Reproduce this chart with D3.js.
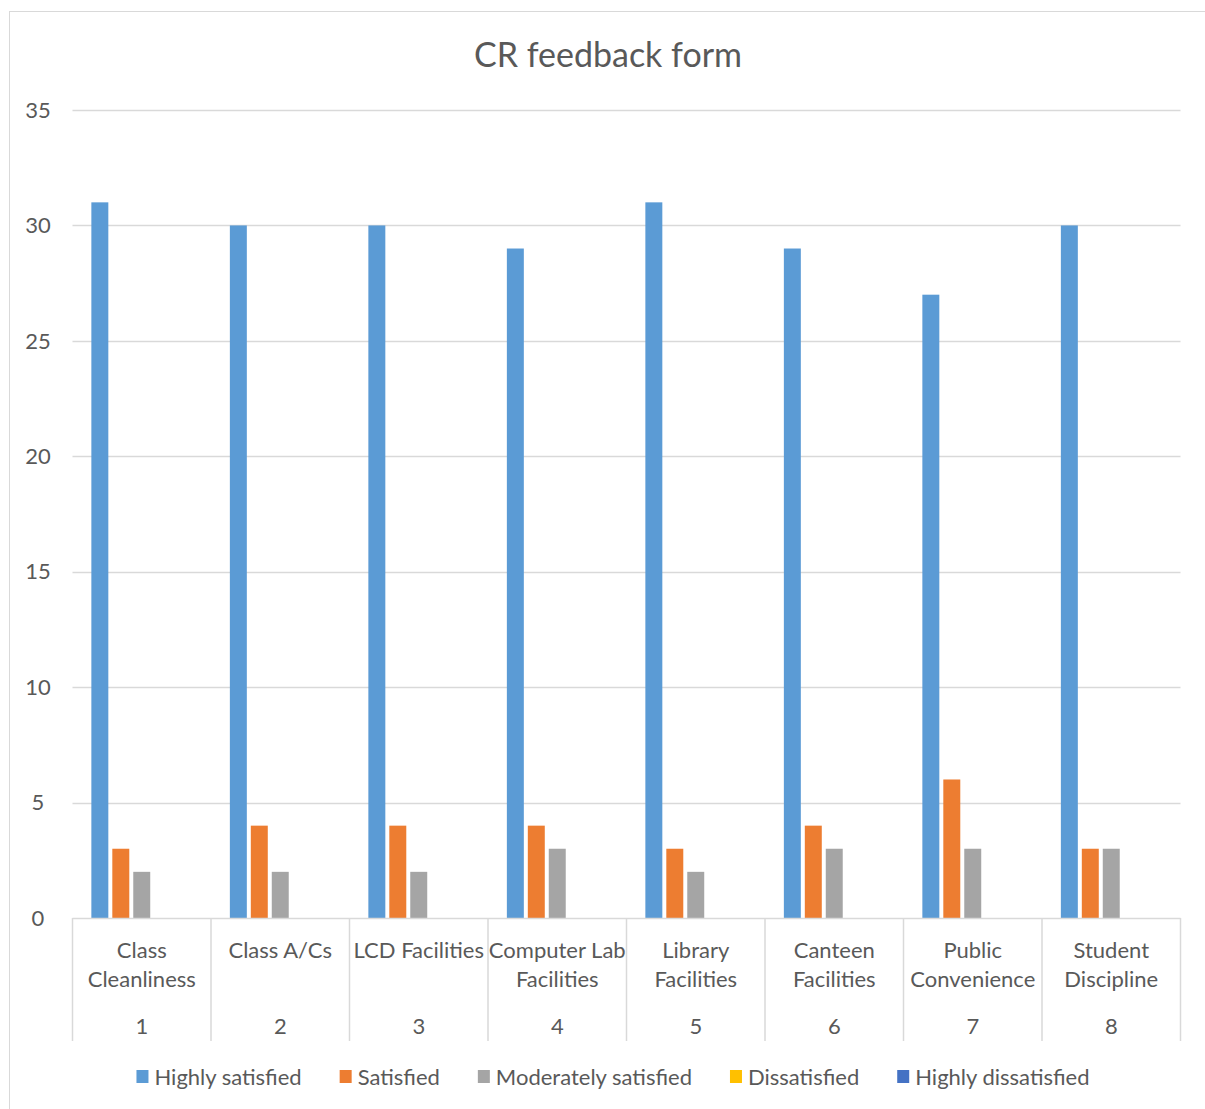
<!DOCTYPE html>
<html><head><meta charset="utf-8">
<script src="https://cdn.jsdelivr.net/npm/d3@7"></script>
<style>
html,body{margin:0;padding:0;background:#fff;}
svg{display:block;}
text{font-family:Lato,"Open Sans",sans-serif;fill:#595959;}
</style></head><body>
<svg id="c" width="1205" height="1109"></svg>
<script>
const categories = ["Class Cleanliness","Class A/Cs","LCD Facilities","Computer Lab Facilities","Library Facilities","Canteen Facilities","Public Convenience","Student Discipline"];
const categoryLines = [["Class","Cleanliness"],["Class A/Cs"],["LCD Facilities"],["Computer Lab","Facilities"],["Library","Facilities"],["Canteen","Facilities"],["Public","Convenience"],["Student","Discipline"]];
const categoryNumbers = ["1","2","3","4","5","6","7","8"];
const seriesNames = ["Highly satisfied","Satisfied","Moderately satisfied","Dissatisfied","Highly dissatisfied"];
const seriesColors = ["#5B9BD5","#ED7D31","#A5A5A5","#FFC000","#4472C4"];
const highlySatisfied = [31,30,30,29,31,29,27,30];
const satisfied = [3,4,4,4,3,4,6,3];
const moderatelySatisfied = [2,2,2,3,2,3,3,3];
const dissatisfied = [0,0,0,0,0,0,0,0];
const highlyDissatisfied = [0,0,0,0,0,0,0,0];
const yTicks = [0,5,10,15,20,25,30,35];
const seriesValues = [highlySatisfied,satisfied,moderatelySatisfied,dissatisfied,highlyDissatisfied];

(function(){
const svg = d3.select("#c");
svg.append("rect").attr("x",9.5).attr("y",11.5).attr("width",1210).attr("height",1110)
  .attr("fill","#fff").attr("stroke","#d9d9d9").attr("stroke-width",1);

const pLeft=72.5, pRight=1180.5, pTop=110, pBottom=918;
const x0 = d3.scaleBand().domain(categories).range([pLeft,pRight]).padding(0);
const x1 = d3.scaleBand().domain(seriesNames).range([0,x0.bandwidth()]).paddingInner(0.19).paddingOuter(0.9);
const y = d3.scaleLinear().domain([0,35]).range([pBottom,pTop]);

svg.append("text").attr("x",608).attr("y",67).attr("text-anchor","middle")
  .style("font-size","34px").text("CR feedback form");

svg.append("g").selectAll("line").data(yTicks.filter(d=>d>0)).join("line")
  .attr("x1",pLeft).attr("x2",pRight).attr("y1",d=>Math.round(y(d))+0.5).attr("y2",d=>Math.round(y(d))+0.5)
  .attr("stroke","#d9d9d9").attr("stroke-width",1.5);

svg.append("g").selectAll("text").data(yTicks).join("text")
  .attr("x",38).attr("y",d=>y(d)).attr("dy","0.35em").attr("text-anchor","middle")
  .style("font-size","22px").text(d=>d);

const groups = svg.append("g").selectAll("g").data(categories).join("g")
  .attr("transform",d=>`translate(${x0(d)},0)`);
groups.selectAll("rect").data((d,i)=>seriesNames.map((s,j)=>({s,v:seriesValues[j][i],c:seriesColors[j]})))
  .join("rect")
  .attr("x",d=>x1(d.s)).attr("width",x1.bandwidth())
  .attr("y",d=>y(d.v)).attr("height",d=>y(0)-y(d.v))
  .attr("fill",d=>d.c);

svg.append("line").attr("x1",pLeft).attr("x2",pRight).attr("y1",pBottom+0.5).attr("y2",pBottom+0.5)
  .attr("stroke","#d9d9d9").attr("stroke-width",1.5);
const seps = categories.map(c=>x0(c)).concat([pRight]);
svg.append("g").selectAll("line").data(seps).join("line")
  .attr("x1",d=>d).attr("x2",d=>d).attr("y1",pBottom).attr("y2",1041)
  .attr("stroke","#d9d9d9").attr("stroke-width",1.5);

const lab = svg.append("g").selectAll("g").data(categories).join("g")
  .attr("transform",d=>`translate(${x0(d)+x0.bandwidth()/2},0)`);
lab.each(function(d,i){
  const g=d3.select(this);
  categoryLines[i].forEach((t,k)=>{
    g.append("text").attr("x",0).attr("y",950+k*29).attr("dy","0.35em").attr("text-anchor","middle")
      .style("font-size","22px").text(t);
  });
  g.append("text").attr("x",0).attr("y",1026).attr("dy","0.35em").attr("text-anchor","middle")
    .style("font-size","22px").text(categoryNumbers[i]);
});

let lx = 0;
const lg = svg.append("g");
const gap = 38;
seriesNames.forEach((s,j)=>{
  const g = lg.append("g").attr("transform",`translate(${lx},0)`);
  g.append("rect").attr("x",0).attr("y",1070).attr("width",12).attr("height",13).attr("fill",seriesColors[j]);
  const t = g.append("text").attr("x",18).attr("y",1077).attr("dy","0.35em").style("font-size","22px").text(s);
  lx += 18 + t.node().getComputedTextLength() + gap;
});
const lw = lx - gap;
lg.attr("transform",`translate(${613 - lw/2},0)`);
})();
</script>
</body></html>
